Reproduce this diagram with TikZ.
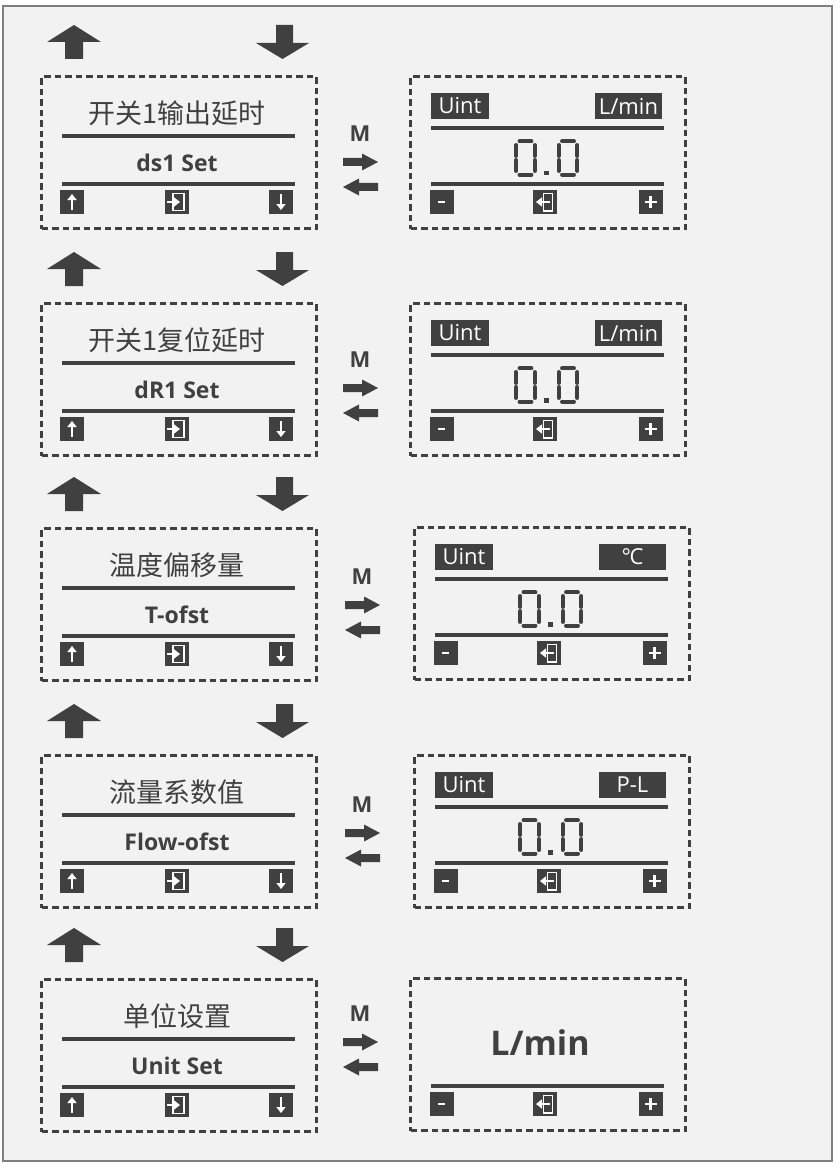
\documentclass[tikz,border=0pt]{standalone}
\usepackage{fontspec}
\setmainfont{Open Sans}
\newfontfamily\cjk{Noto Sans CJK SC}
\usetikzlibrary{arrows.meta}
\definecolor{ink}{HTML}{404040}
\definecolor{bg}{HTML}{F2F2F2}
\definecolor{frame}{HTML}{7F7F7F}
\tikzset{
  panel/.style={draw=ink, line width=3.2pt, dash pattern=on 6.5pt off 4pt,
    minimum width=275pt, minimum height=152pt, anchor=north west, inner sep=0pt},
  rulel/.style={draw=ink, line width=4pt},
  btn/.style={fill=ink, minimum size=24pt, inner sep=0pt},
  tag/.style={fill=ink, text=white, minimum height=26pt, inner sep=0pt,
    font=\fontsize{22}{22}\selectfont},
  titletext/.style={text=ink, font=\cjk\fontsize{27}{27}\selectfont, inner sep=0pt},
  subtext/.style={text=ink, font=\bfseries\fontsize{23}{23}\selectfont, inner sep=0pt},
  mlabel/.style={text=ink, font=\bfseries\fontsize{22}{22}\selectfont, inner sep=0pt},
  bigunit/.style={text=ink, font=\bfseries\fontsize{34}{34}\selectfont, inner sep=0pt},
  iconline/.style={draw=white, line width=1.3pt},
  wbar/.style={draw=white, line width=2.4pt},
  warrow/.style={draw=white, line width=2.6pt, -{Triangle[width=9pt,length=6pt]}},
  seg/.style={draw=ink, line width=3.9pt, line cap=round},
}
% seven-segment zero centred at (#1,#2)
\newcommand\SevenZero[2]{%
  \draw[seg] (#1-6,#2-16.6) -- (#1+6,#2-16.6);
  \draw[seg] (#1-6,#2+16.6) -- (#1+6,#2+16.6);
  \draw[seg] (#1-9.3,#2-13) -- (#1-9.3,#2-2);
  \draw[seg] (#1-9.3,#2+2) -- (#1-9.3,#2+13);
  \draw[seg] (#1+9.3,#2-13) -- (#1+9.3,#2-2);
  \draw[seg] (#1+9.3,#2+2) -- (#1+9.3,#2+13);
}
% big up/down arrows above a row, T = top of the row's boxes
\newcommand\BigArrows[1]{%
  \fill[ink] (74,#1-50) -- (101,#1-33) -- (83,#1-33) -- (83,#1-16) -- (65,#1-16)
    -- (65,#1-33) -- (47,#1-33) -- cycle;
  \fill[ink] (276,#1-50) -- (293,#1-50) -- (293,#1-32) -- (309,#1-32) -- (282.5,#1-16)
    -- (256,#1-32) -- (276,#1-32) -- cycle;
}
% left panel: id, T, title, subtitle
\newcommand\LeftPanel[4]{%
  \node[panel] (lb#1) at (40,#2) {};
  \node[titletext] (lt#1) at (177,#2+38) {#3};
  \draw[rulel] (62,#2+61) -- (295,#2+61);
  \node[subtext] (ls#1) at (177,#2+88) {#4};
  \draw[rulel] (62,#2+109) -- (295,#2+109);
  \node[btn] (lu#1) at (72,#2+127) {};
  \node[btn] (le#1) at (177,#2+127) {};
  \node[btn] (ld#1) at (281,#2+127) {};
  \draw[warrow] (72,#2+135) -- (72,#2+119);
  \draw[warrow] (281,#2+119) -- (281,#2+135);
  \draw[iconline] (173,#2+118.5) rectangle (184,#2+135.5);
  \draw[warrow] (167,#2+127) -- (180,#2+127);
}
% M arrows: id, dx, y of M
\newcommand\MArrows[3]{%
  \node[mlabel] (m#1) at (360+#2,#3) {M};
  \fill[ink] (343+#2,#3+24) -- (362+#2,#3+24) -- (362+#2,#3+19.5) -- (378+#2,#3+28)
    -- (362+#2,#3+36.5) -- (362+#2,#3+32) -- (343+#2,#3+32) -- cycle;
  \fill[ink] (378+#2,#3+49) -- (359+#2,#3+49) -- (359+#2,#3+44.5) -- (343+#2,#3+53)
    -- (359+#2,#3+61.5) -- (359+#2,#3+57) -- (378+#2,#3+57) -- cycle;
}
% bottom buttons of a right panel: id, R, T
\newcommand\RightButtons[3]{%
  \draw[rulel] (#2+22,#3+109) -- (#2+255,#3+109);
  \node[btn] (rm#1) at (#2+32.5,#3+127) {};
  \node[btn] (re#1) at (#2+136,#3+127) {};
  \node[btn] (rp#1) at (#2+241.5,#3+127) {};
  \draw[wbar] (#2+29,#3+127) -- (#2+36,#3+127);
  \draw[wbar] (#2+235.5,#3+127) -- (#2+247.5,#3+127);
  \draw[wbar] (#2+241.5,#3+121) -- (#2+241.5,#3+133);
  \draw[iconline] (#2+134.5,#3+118.5) rectangle (#2+143.5,#3+136);
  \draw[warrow] (#2+140.5,#3+127) -- (#2+127,#3+127);
}
% right panel with value: id, R, T, unit
\newcommand\RightPanel[4]{%
  \node[panel] (rb#1) at (#2,#3) {};
  \node[tag, minimum width=58pt] (ru#1) at (#2+51,#3+31) {Uint};
  \node[tag, minimum width=67pt] (rl#1) at (#2+219.5,#3+31) {#4};
  \draw[rulel] (#2+22,#3+53) -- (#2+255,#3+53);
  \SevenZero{#2+116.5}{#3+83}
  \SevenZero{#2+159}{#3+83}
  \fill[ink] (#2+135,#3+96) rectangle (#2+139.5,#3+100.5);
  \RightButtons{#1}{#2}{#3}
}
\begin{document}
\begin{tikzpicture}[x=1pt,y=-1pt]
\useasboundingbox (0,0) rectangle (839,1169);
\fill[white] (0,0) rectangle (839,1169);
\filldraw[fill=bg, draw=frame, line width=1.3pt] (3,6) rectangle (832,1161);

\BigArrows{75}
\LeftPanel{1}{75}{开关1输出延时}{ds1 Set}
\MArrows{1}{0}{134}
\RightPanel{1}{409}{75}{L/min}

\BigArrows{302}
\LeftPanel{2}{302}{开关1复位延时}{dR1 Set}
\MArrows{2}{0}{360}
\RightPanel{2}{409}{302}{L/min}

\BigArrows{527}
\LeftPanel{3}{527}{温度偏移量}{T-ofst}
\MArrows{3}{2}{577}
\RightPanel{3}{413}{526}{°\kern-0.06em C}

\BigArrows{754}
\LeftPanel{4}{754}{流量系数值}{Flow-ofst}
\MArrows{4}{2}{805}
\RightPanel{4}{413}{754}{P-L}

\BigArrows{978}
\LeftPanel{5}{978}{单位设置}{Unit Set}
\MArrows{5}{0}{1014}
\node[panel] (rb5) at (409,977) {};
\node[bigunit] (rv5) at (540,1043) {L/min};
\RightButtons{5}{409}{977}
\end{tikzpicture}
\end{document}
